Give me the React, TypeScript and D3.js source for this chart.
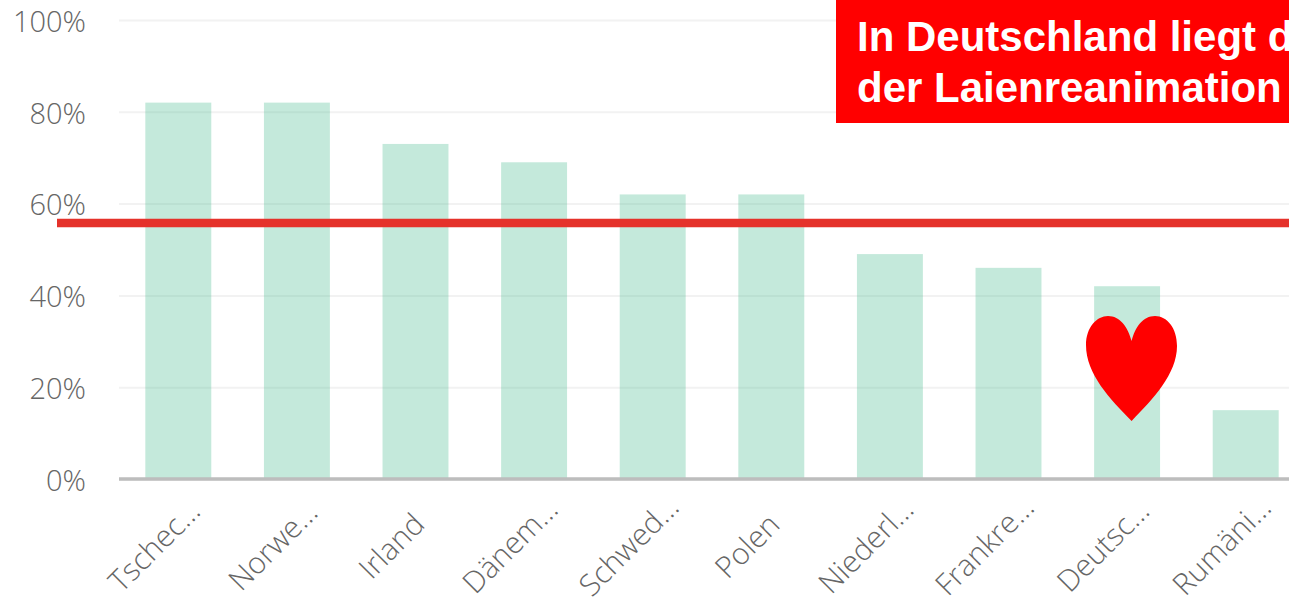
import React, { useEffect } from 'react'
import * as d3 from 'd3'

const width = 1289
const height = 599

const countries = ["Tschec…", "Norwe…", "Irland", "Dänem…", "Schwed…", "Polen", "Niederl…", "Frankre…", "Deutsc…", "Rumäni…"]
const rates = [82, 82, 73, 69, 62, 62, 49, 46, 42, 15]
const yTicks = [0, 20, 40, 60, 80, 100]
const europeAverage = 56
const noteLines = ["In Deutschland liegt d", "der Laienreanimation"]

const labelFont = "'Open Sans', sans-serif"

export default function App() {

    useEffect(() => {

        document.body.style.margin = "0"

        const svg = d3.select("#chart")
        svg.selectAll("*").remove()

        const x = d3.scaleBand()
            .domain(countries)
            .range([119, 1305])
            .paddingInner(0.444)
            .paddingOuter(0.222)

        const y = d3.scaleLinear()
            .domain([0, 100])
            .range([479, 20])

        // y axis, its ticks are stretched to make the gridlines
        const yAxis = g => g
            .attr("transform", "translate(119,0)")
            .call(d3.axisLeft(y).tickValues(yTicks).tickFormat(d => d + "%").tickSize(-(width - 119)).tickPadding(33))
            .call(g => g.select(".domain").remove())
            .call(g => g.selectAll(".tick line").attr("stroke", "#f2f2f2").attr("stroke-width", 2))
            .call(g => g.selectAll(".tick text")
                .attr("y", 2)
                .attr("fill", "#666666")
                .attr("font-family", labelFont)
                .attr("font-weight", 300)
                .attr("font-size", 29))

        svg.append("g").call(yAxis)

        svg.append("g")
            .selectAll("rect")
            .data(rates)
            .join("rect")
            .attr("x", (d, i) => x(countries[i]))
            .attr("y", d => y(d))
            .attr("width", x.bandwidth())
            .attr("height", d => y(0) - y(d))
            .attr("fill", "#3ab687")
            .attr("fill-opacity", 0.3)

        // baseline
        svg.append("line")
            .attr("x1", 119)
            .attr("x2", width)
            .attr("y1", y(0))
            .attr("y2", y(0))
            .attr("stroke", "#bdbdbd")
            .attr("stroke-width", 3.5)

        // x labels, rotated about their middle
        svg.append("g")
            .selectAll("text")
            .data(countries)
            .join("text")
            .attr("transform", d => `translate(${x(d) + x.bandwidth() / 2 - 24},${546}) rotate(-45)`)
            .attr("text-anchor", "middle")
            .attr("dy", "0.35em")
            .attr("fill", "#666666")
            .attr("font-family", labelFont)
            .attr("font-weight", 300)
            .attr("font-size", 30)
            .text(d => d)

        // average line
        svg.append("line")
            .attr("x1", 57)
            .attr("x2", width)
            .attr("y1", y(europeAverage) + 1)
            .attr("y2", y(europeAverage) + 1)
            .attr("stroke", "#e5322b")
            .attr("stroke-width", 8.5)

        // heart on Deutschland
        svg.append("path")
            .attr("d", "M1131.6 421 C1110 399 1086 374 1086 345 C1086 327 1097 316 1108 316 C1120 316 1128 327 1131.6 341 C1135 327 1143 316 1155 316 C1167 316 1177 328 1177 346 C1177 374 1153 399 1131.6 421 Z")
            .attr("fill", "#ff0000")

        // note box, runs off the right edge
        svg.append("rect")
            .attr("x", 836)
            .attr("y", 0)
            .attr("width", width - 836)
            .attr("height", 123)
            .attr("fill", "#ff0000")

        noteLines.forEach((line, i) => {
            svg.append("text")
                .attr("x", 857)
                .attr("y", 51 + i * 51)
                .attr("fill", "#ffffff")
                .attr("font-family", "'Liberation Sans', Arial, sans-serif")
                .attr("font-weight", 700)
                .attr("font-size", 42)
                .text(line)
        })

    }, [])

    return (
        <svg id="chart" width={width} height={height} style={{ display: "block" }} />
    )
}
